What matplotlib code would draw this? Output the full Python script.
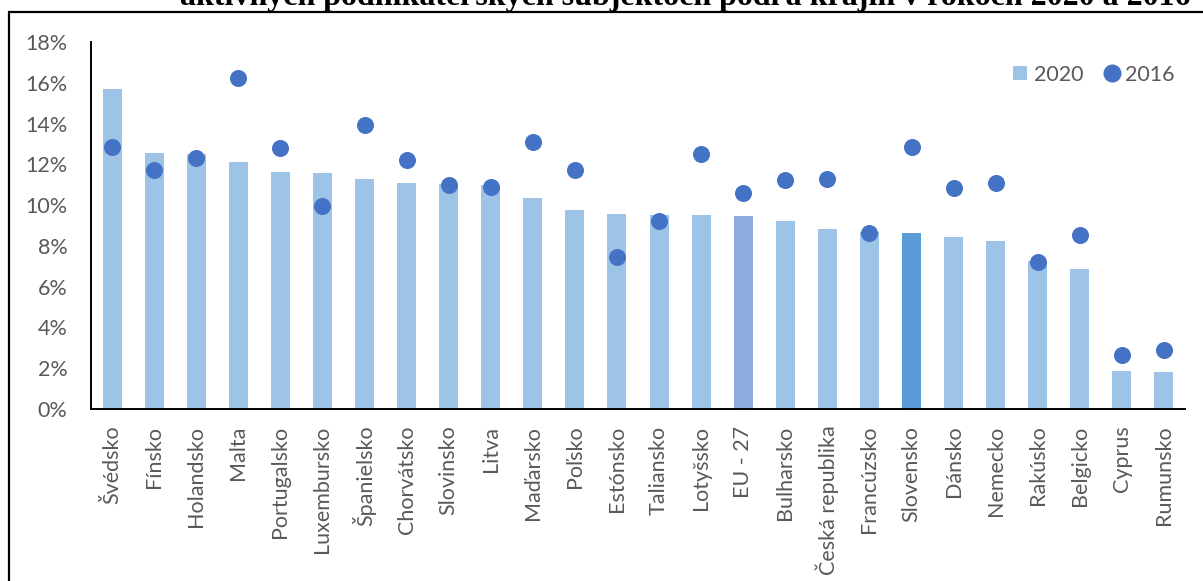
import matplotlib
matplotlib.use("Agg")
import matplotlib.pyplot as plt
import numpy as np
from matplotlib.lines import Line2D
from matplotlib.patches import Rectangle

# údaje
krajiny = ["Švédsko", "Fínsko", "Holandsko", "Malta", "Portugalsko", "Luxembursko",
           "Španielsko", "Chorvátsko", "Slovinsko", "Litva", "Maďarsko", "Poľsko",
           "Estónsko", "Taliansko", "Lotyšsko", "EU - 27", "Bulharsko",
           "Česká republika", "Francúzsko", "Slovensko", "Dánsko", "Nemecko",
           "Rakúsko", "Belgicko", "Cyprus", "Rumunsko"]
hodnoty_2020 = [15.69, 12.54, 12.51, 12.13, 11.61, 11.56, 11.28, 11.07, 11.02, 10.97,
                10.36, 9.76, 9.55, 9.53, 9.50, 9.47, 9.24, 8.83, 8.66, 8.63,
                8.42, 8.24, 7.26, 6.87, 1.86, 1.81]
hodnoty_2016 = [12.83, 11.71, 12.31, 16.23, 12.80, 9.97, 13.94, 12.21, 10.97, 10.90,
                13.08, 11.71, 7.45, 9.22, 12.49, 10.59, 11.25, 11.30, 8.62, 12.85,
                10.84, 11.08, 7.19, 8.55, 2.65, 2.88]
titulok = "aktívnych podnikateľských subjektoch podľa krajín v rokoch 2020 a 2016"

farba_bar = "#9DC3E6"
farba_eu = "#8FAADC"
farba_sk = "#5B9BD5"
farba_bod = "#4472C4"
siva = "#595959"

plt.rcParams['font.family'] = ['Lato', 'DejaVu Sans']

fig = plt.figure(figsize=(12.03, 5.81), dpi=100)
ax = fig.add_axes([91/1203, 1 - 409/581, (1185 - 91)/1203, (409 - 42)/581])

x = np.arange(len(krajiny))
farby = [farba_eu if k == "EU - 27" else farba_sk if k == "Slovensko" else farba_bar
         for k in krajiny]
ax.bar(x, np.array(hodnoty_2020) / 100, width=0.45, color=farby, zorder=2)
ax.scatter(x, np.array(hodnoty_2016) / 100, s=150, color=farba_bod, zorder=3,
           linewidths=0)

ax.set_xlim(-0.5, len(krajiny) - 0.5)
ax.set_ylim(0, 0.18)
ax.set_yticks(np.arange(0, 0.181, 0.02))
ax.set_yticklabels([f"{int(round(v*100))}%" for v in np.arange(0, 0.181, 0.02)])
ax.set_xticks(x)
ax.set_xticklabels(krajiny, rotation=90)
ax.tick_params(axis='y', length=0, pad=17, labelsize=15.5, labelcolor=siva)
ax.tick_params(axis='x', length=0, pad=12, labelsize=15.5, labelcolor=siva)

for s in ["top", "right"]:
    ax.spines[s].set_visible(False)
ax.spines["left"].set_linewidth(1.4)
ax.spines["bottom"].set_linewidth(1.4)

# legenda
handles = [Line2D([], [], linestyle='none', marker='s', markersize=10,
                  markerfacecolor=farba_bar, markeredgewidth=0),
           Line2D([], [], linestyle='none', marker='o', markersize=13,
                  markerfacecolor=farba_bod, markeredgewidth=0)]
fig.legend(handles, ["2020", "2016"], loc='center right',
           bbox_to_anchor=(1175/1203, 1 - 75/581), ncol=2, frameon=False,
           fontsize=15.5, labelcolor=siva, handletextpad=0.15, columnspacing=0.8,
           borderpad=0, borderaxespad=0, handlelength=1.0)

# orámovanie a orezaný titulok (v originále je odrezaný hornou hranou)
fig.patches.append(Rectangle((9/1203, -0.1), 1.2, 1.1 - 12/581, transform=fig.transFigure,
                             fill=False, edgecolor='black', linewidth=1.6))
fig.text(180/1203, 1 - 5.5/581, titulok, ha='left', va='baseline',
         fontsize=23, fontweight='bold', family='Liberation Serif')

fig.savefig("out.png", dpi=100)
